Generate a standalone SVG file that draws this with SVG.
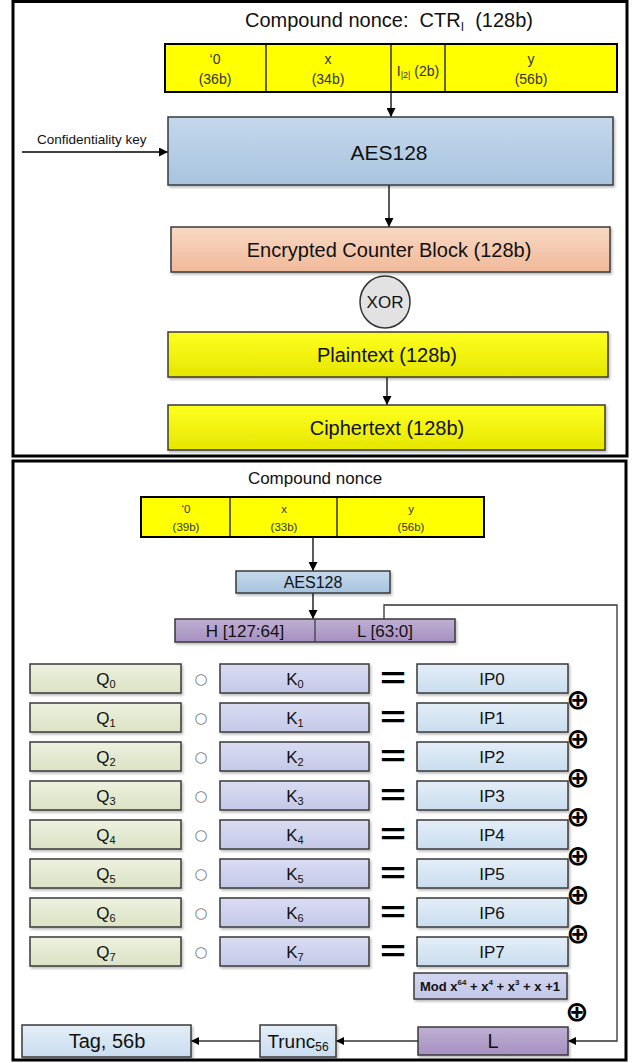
<svg xmlns="http://www.w3.org/2000/svg" width="634" height="1063" viewBox="0 0 634 1063">
<defs>
<linearGradient id="gBlue" x1="0" y1="0" x2="0" y2="1"><stop offset="0" stop-color="#c4d8ec"/><stop offset="1" stop-color="#a8c4df"/></linearGradient>
<linearGradient id="gPeach" x1="0" y1="0" x2="0" y2="1"><stop offset="0" stop-color="#f9d9c4"/><stop offset="1" stop-color="#f0b999"/></linearGradient>
<linearGradient id="gYellow" x1="0" y1="0" x2="0" y2="1"><stop offset="0" stop-color="#ffff20"/><stop offset="1" stop-color="#e6e600"/></linearGradient>
<linearGradient id="gQ" x1="0" y1="0" x2="0" y2="1"><stop offset="0" stop-color="#edf1df"/><stop offset="1" stop-color="#dbe2c4"/></linearGradient>
<linearGradient id="gK" x1="0" y1="0" x2="0" y2="1"><stop offset="0" stop-color="#dadcf2"/><stop offset="1" stop-color="#c4c9e8"/></linearGradient>
<linearGradient id="gIP" x1="0" y1="0" x2="0" y2="1"><stop offset="0" stop-color="#e4eef8"/><stop offset="1" stop-color="#c9ddef"/></linearGradient>
<linearGradient id="gPurple" x1="0" y1="0" x2="0" y2="1"><stop offset="0" stop-color="#bfb0d3"/><stop offset="1" stop-color="#a690c1"/></linearGradient>
<linearGradient id="gMod" x1="0" y1="0" x2="0" y2="1"><stop offset="0" stop-color="#d3d6f1"/><stop offset="1" stop-color="#c1c6e8"/></linearGradient>
<filter id="sh" x="-10%" y="-20%" width="130%" height="160%"><feDropShadow dx="1.5" dy="2" stdDeviation="1.2" flood-color="#000" flood-opacity="0.25"/></filter>
<marker id="ah" viewBox="0 0 10 10" refX="10" refY="5" markerWidth="9" markerHeight="9" markerUnits="userSpaceOnUse" orient="auto"><path d="M0,0 L10,5 L0,10 z" fill="#000"/></marker>
<marker id="ahs" viewBox="0 0 10 10" refX="10" refY="5" markerWidth="8" markerHeight="8" markerUnits="userSpaceOnUse" orient="auto"><path d="M0,0 L10,5 L0,10 z" fill="#000"/></marker>
</defs>
<style>
text{font-family:"Liberation Sans",Arial,sans-serif;fill:#111}
.c{text-anchor:middle}
.panel{fill:#fff;stroke:#000;stroke-width:3}
.box{stroke:#3a3a3a;stroke-width:1.5;filter:url(#sh)}
.bar{fill:#ffff00;stroke:#000;stroke-width:2}
.div{stroke:#000;stroke-width:1.2}
.con{fill:none;stroke:#000;stroke-width:1.3}
.con2{fill:none;stroke:#333;stroke-width:1.3}
.big{font-size:20px}
.nt{font-size:14px;fill:#333}
.nt2{font-size:11.5px;fill:#333}
.row{font-size:17px}
.op{font-family:"DejaVu Sans",sans-serif;font-size:15px;fill:#777}
.xo{font-family:"DejaVu Sans",sans-serif;font-size:28px;font-weight:bold;fill:#000}
.eq{font-size:30px;font-weight:bold;fill:#000}
</style>

<rect class="panel" x="13" y="1.5" width="614" height="454.5"/>
<rect class="panel" x="13" y="461" width="613" height="599"/>

<g id="connectors">
<line class="con" x1="391" y1="92" x2="391" y2="117" marker-end="url(#ah)"/>
<line class="con" x1="22" y1="152" x2="168" y2="152" marker-end="url(#ah)"/>
<line class="con" x1="389" y1="185" x2="389" y2="227" marker-end="url(#ah)"/>
<line class="con" x1="387" y1="377" x2="387" y2="405" marker-end="url(#ah)"/>
<line class="con" x1="313" y1="537" x2="313" y2="571" marker-end="url(#ah)"/>
<line class="con" x1="313" y1="593" x2="313" y2="619" marker-end="url(#ah)"/>
<polyline class="con2" points="384,619 384,605 617,605 617,1041 568,1041" marker-end="url(#ahs)"/>
<line class="con2" x1="418" y1="1041" x2="336" y2="1041" marker-end="url(#ahs)"/>
<line class="con2" x1="260" y1="1041" x2="191" y2="1041" marker-end="url(#ahs)"/>
</g>

<g id="title1"><text class="c" x="389" y="27" font-size="20">Compound nonce:&#160; CTR<tspan font-size="12" dy="4">I</tspan><tspan dy="-4">&#160; (128b)</tspan></text></g>

<g id="nonce1">
<rect class="bar" x="165" y="44" width="452" height="48"/>
<line class="div" x1="266" y1="44" x2="266" y2="92"/>
<line class="div" x1="391" y1="44" x2="391" y2="92"/>
<line class="div" x1="445" y1="44" x2="445" y2="92"/>
<text class="c nt" x="215" y="64">‘0</text><text class="c nt" x="215" y="84">(36b)</text>
<text class="c nt" x="328" y="64">x</text><text class="c nt" x="328" y="84">(34b)</text>
<text class="c nt" x="418" y="76">I<tspan font-size="9" dy="2">|2|</tspan><tspan dy="-2"> (2b)</tspan></text>
<text class="c nt" x="531" y="64">y</text><text class="c nt" x="531" y="84">(56b)</text>
</g>

<g id="key"><text x="37" y="144" font-size="13.5" fill="#222">Confidentiality key</text></g>

<g id="aes1"><rect class="box" x="168" y="117" width="445" height="68" fill="url(#gBlue)"/><text class="c" x="389" y="160" font-size="21">AES128</text></g>
<g id="ecb"><rect class="box" x="171" y="227" width="439" height="45" fill="url(#gPeach)"/><text class="c big" x="389" y="257">Encrypted Counter Block (128b)</text></g>
<g id="xor"><ellipse cx="385" cy="302" rx="25" ry="26" fill="#e2e2e2" stroke="#333" stroke-width="1.5"/><text class="c" x="385" y="308" font-size="17">XOR</text></g>
<g id="plain"><rect class="box" x="168" y="332" width="440" height="45" fill="url(#gYellow)"/><text class="c big" x="387" y="362">Plaintext (128b)</text></g>
<g id="cipher"><rect class="box" x="168" y="405" width="437" height="45" fill="url(#gYellow)"/><text class="c big" x="387" y="435">Ciphertext (128b)</text></g>

<g id="title2"><text class="c" x="315" y="484" font-size="17">Compound nonce</text></g>
<g id="nonce2">
<rect class="bar" x="141" y="497" width="343" height="40"/>
<line class="div" x1="230" y1="497" x2="230" y2="537"/>
<line class="div" x1="337" y1="497" x2="337" y2="537"/>
<text class="c nt2" x="186" y="513">‘0</text><text class="c nt2" x="186" y="531">(39b)</text>
<text class="c nt2" x="284" y="513">x</text><text class="c nt2" x="284" y="531">(33b)</text>
<text class="c nt2" x="411" y="513">y</text><text class="c nt2" x="411" y="531">(56b)</text>
</g>
<g id="aes2"><rect class="box" x="236" y="571" width="154" height="22" fill="url(#gBlue)"/><text class="c" x="313" y="588" font-size="16">AES128</text></g>
<g id="hl">
<rect class="box" x="175" y="619" width="280" height="23" fill="url(#gPurple)"/>
<line x1="315" y1="619" x2="315" y2="642" stroke="#3a3a3a" stroke-width="1.2"/>
<text class="c" x="245" y="637" font-size="17">H [127:64]</text>
<text class="c" x="385" y="637" font-size="17">L [63:0]</text>
</g>

<g id="row0" transform="translate(0,0)">
<rect class="box" x="30" y="664" width="151" height="29" fill="url(#gQ)"/><text class="c row" x="106" y="685">Q<tspan font-size="11" dy="3">0</tspan></text>
<text class="c op" x="201" y="684">○</text>
<rect class="box" x="220" y="664" width="149" height="29" fill="url(#gK)"/><text class="c row" x="295" y="685">K<tspan font-size="11" dy="3">0</tspan></text>
<text class="c eq" x="393" y="688" textLength="26" lengthAdjust="spacingAndGlyphs">=</text>
<rect class="box" x="417" y="664" width="151" height="29" fill="url(#gIP)"/><text class="c row" x="492" y="685">IP0</text>
</g>
<g id="row1" transform="translate(0,39)">
<rect class="box" x="30" y="664" width="151" height="29" fill="url(#gQ)"/><text class="c row" x="106" y="685">Q<tspan font-size="11" dy="3">1</tspan></text>
<text class="c op" x="201" y="684">○</text>
<rect class="box" x="220" y="664" width="149" height="29" fill="url(#gK)"/><text class="c row" x="295" y="685">K<tspan font-size="11" dy="3">1</tspan></text>
<text class="c eq" x="393" y="688" textLength="26" lengthAdjust="spacingAndGlyphs">=</text>
<rect class="box" x="417" y="664" width="151" height="29" fill="url(#gIP)"/><text class="c row" x="492" y="685">IP1</text>
</g>
<g id="row2" transform="translate(0,78)">
<rect class="box" x="30" y="664" width="151" height="29" fill="url(#gQ)"/><text class="c row" x="106" y="685">Q<tspan font-size="11" dy="3">2</tspan></text>
<text class="c op" x="201" y="684">○</text>
<rect class="box" x="220" y="664" width="149" height="29" fill="url(#gK)"/><text class="c row" x="295" y="685">K<tspan font-size="11" dy="3">2</tspan></text>
<text class="c eq" x="393" y="688" textLength="26" lengthAdjust="spacingAndGlyphs">=</text>
<rect class="box" x="417" y="664" width="151" height="29" fill="url(#gIP)"/><text class="c row" x="492" y="685">IP2</text>
</g>
<g id="row3" transform="translate(0,117)">
<rect class="box" x="30" y="664" width="151" height="29" fill="url(#gQ)"/><text class="c row" x="106" y="685">Q<tspan font-size="11" dy="3">3</tspan></text>
<text class="c op" x="201" y="684">○</text>
<rect class="box" x="220" y="664" width="149" height="29" fill="url(#gK)"/><text class="c row" x="295" y="685">K<tspan font-size="11" dy="3">3</tspan></text>
<text class="c eq" x="393" y="688" textLength="26" lengthAdjust="spacingAndGlyphs">=</text>
<rect class="box" x="417" y="664" width="151" height="29" fill="url(#gIP)"/><text class="c row" x="492" y="685">IP3</text>
</g>
<g id="row4" transform="translate(0,156)">
<rect class="box" x="30" y="664" width="151" height="29" fill="url(#gQ)"/><text class="c row" x="106" y="685">Q<tspan font-size="11" dy="3">4</tspan></text>
<text class="c op" x="201" y="684">○</text>
<rect class="box" x="220" y="664" width="149" height="29" fill="url(#gK)"/><text class="c row" x="295" y="685">K<tspan font-size="11" dy="3">4</tspan></text>
<text class="c eq" x="393" y="688" textLength="26" lengthAdjust="spacingAndGlyphs">=</text>
<rect class="box" x="417" y="664" width="151" height="29" fill="url(#gIP)"/><text class="c row" x="492" y="685">IP4</text>
</g>
<g id="row5" transform="translate(0,195)">
<rect class="box" x="30" y="664" width="151" height="29" fill="url(#gQ)"/><text class="c row" x="106" y="685">Q<tspan font-size="11" dy="3">5</tspan></text>
<text class="c op" x="201" y="684">○</text>
<rect class="box" x="220" y="664" width="149" height="29" fill="url(#gK)"/><text class="c row" x="295" y="685">K<tspan font-size="11" dy="3">5</tspan></text>
<text class="c eq" x="393" y="688" textLength="26" lengthAdjust="spacingAndGlyphs">=</text>
<rect class="box" x="417" y="664" width="151" height="29" fill="url(#gIP)"/><text class="c row" x="492" y="685">IP5</text>
</g>
<g id="row6" transform="translate(0,234)">
<rect class="box" x="30" y="664" width="151" height="29" fill="url(#gQ)"/><text class="c row" x="106" y="685">Q<tspan font-size="11" dy="3">6</tspan></text>
<text class="c op" x="201" y="684">○</text>
<rect class="box" x="220" y="664" width="149" height="29" fill="url(#gK)"/><text class="c row" x="295" y="685">K<tspan font-size="11" dy="3">6</tspan></text>
<text class="c eq" x="393" y="688" textLength="26" lengthAdjust="spacingAndGlyphs">=</text>
<rect class="box" x="417" y="664" width="151" height="29" fill="url(#gIP)"/><text class="c row" x="492" y="685">IP6</text>
</g>
<g id="row7" transform="translate(0,273)">
<rect class="box" x="30" y="664" width="151" height="29" fill="url(#gQ)"/><text class="c row" x="106" y="685">Q<tspan font-size="11" dy="3">7</tspan></text>
<text class="c op" x="201" y="684">○</text>
<rect class="box" x="220" y="664" width="149" height="29" fill="url(#gK)"/><text class="c row" x="295" y="685">K<tspan font-size="11" dy="3">7</tspan></text>
<text class="c eq" x="393" y="688" textLength="26" lengthAdjust="spacingAndGlyphs">=</text>
<rect class="box" x="417" y="664" width="151" height="29" fill="url(#gIP)"/><text class="c row" x="492" y="685">IP7</text>
</g>

<g id="xors">
<text class="c xo" x="578" y="709">⊕</text>
<text class="c xo" x="578" y="748">⊕</text>
<text class="c xo" x="578" y="787">⊕</text>
<text class="c xo" x="578" y="826">⊕</text>
<text class="c xo" x="578" y="865">⊕</text>
<text class="c xo" x="578" y="904">⊕</text>
<text class="c xo" x="578" y="943">⊕</text>
<text class="c xo" x="577" y="1021">⊕</text>
</g>

<g id="mod"><rect class="box" x="414" y="973" width="153" height="26" fill="url(#gMod)"/>
<text class="c" x="490" y="991" font-size="13" font-weight="bold">Mod x<tspan font-size="8" dy="-6">64</tspan><tspan dy="6"> + x</tspan><tspan font-size="8" dy="-6">4</tspan><tspan dy="6"> + x</tspan><tspan font-size="8" dy="-6">3</tspan><tspan dy="6"> + x +1</tspan></text></g>

<g id="tag"><rect class="box" x="22" y="1025" width="169" height="32" fill="url(#gIP)"/><text class="c" x="107" y="1048" font-size="20">Tag, 56b</text></g>
<g id="trunc"><rect class="box" x="260" y="1025" width="76" height="32" fill="url(#gIP)"/><text class="c" x="298" y="1048" font-size="19">Trunc<tspan font-size="12" dy="3">56</tspan></text></g>
<g id="lbox"><rect class="box" x="418" y="1027" width="150" height="28" fill="url(#gPurple)"/><text class="c" x="493" y="1048" font-size="20">L</text></g>
</svg>
